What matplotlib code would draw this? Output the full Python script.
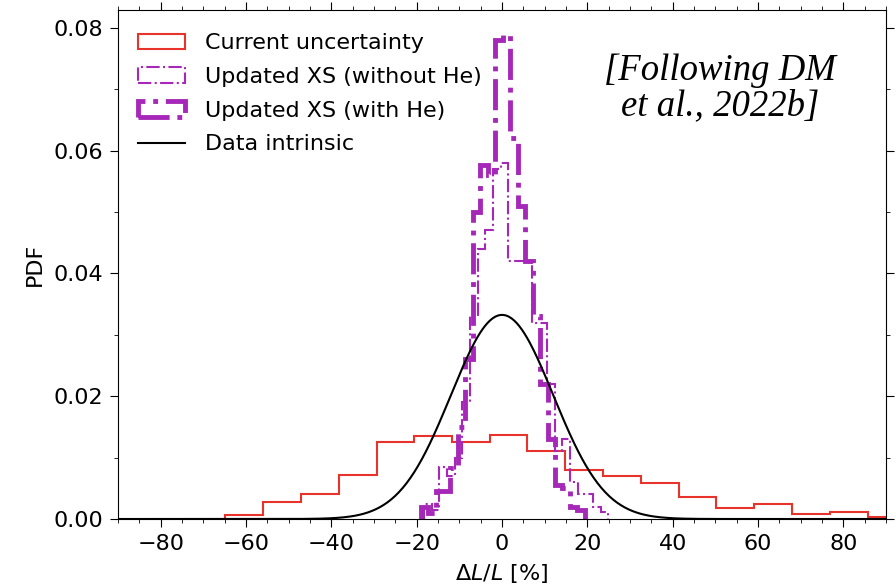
import numpy as np
import matplotlib.pyplot as plt

# Current uncertainty histogram (density), bin edges in %
cur_edges = np.array([-64.9, -56.0, -47.2, -38.3, -29.4, -20.6, -11.7, -2.9,
                      5.9, 14.8, 23.6, 32.5, 41.4, 50.2, 59.1, 67.9, 76.8, 85.7, 94.5])
cur_pdf = np.array([0.0006, 0.0028, 0.0040, 0.0072, 0.0126, 0.0136, 0.0125, 0.0137,
                    0.0111, 0.0080, 0.0070, 0.0059, 0.0036, 0.0018, 0.0024, 0.0008,
                    0.0011, 0.0004])

# Updated cross sections, without He
noHe_edges = np.array([-18.3, -16.5, -14.7, -12.9, -11.1, -9.3, -7.5, -5.7, -3.9,
                       -2.1, -0.3, 1.5, 3.3, 5.1, 6.9, 8.7, 10.5, 12.3, 14.1,
                       15.9, 17.7, 19.5, 21.3, 23.1, 24.9])
noHe_pdf = np.array([0.0025, 0.0015, 0.0085, 0.0070, 0.0100, 0.0190, 0.0330, 0.0440,
                     0.0470, 0.0570, 0.0580, 0.0420, 0.0420, 0.0420, 0.0320, 0.0320,
                     0.0220, 0.0110, 0.0130, 0.0060, 0.0040, 0.0040, 0.0020, 0.0012])

# Updated cross sections, with He
He_edges = np.array([-19.1, -17.35, -15.6, -13.85, -12.1, -10.35, -8.6, -6.85, -5.1,
                     -3.35, -1.6, 0.15, 1.9, 3.65, 5.4, 7.15, 8.9, 10.65, 12.4,
                     14.15, 15.9, 17.65, 19.4])
He_pdf = np.array([0.0020, 0.0010, 0.0045, 0.0045, 0.0083, 0.0150, 0.0260, 0.0500,
                   0.0577, 0.0560, 0.0780, 0.0788, 0.0620, 0.0510, 0.0420, 0.0330,
                   0.0220, 0.0130, 0.0055, 0.0050, 0.0020, 0.0015])

# intrinsic scatter of the data (gaussian)
mu, sigma = 0.0, 12.0

red = '#e8332c'
purple = '#a628b8'

fig = plt.figure(figsize=(8.96, 5.85), dpi=100)
ax = fig.add_axes([0.1317, 0.1128, 0.8573, 0.870])

ax.hist(cur_edges[:-1], bins=cur_edges, weights=cur_pdf, histtype='step',
        color=red, lw=1.5, label='Current uncertainty')
ax.hist(noHe_edges[:-1], bins=noHe_edges, weights=noHe_pdf, histtype='step',
        color=purple, lw=1.5, ls='-.', label='Updated XS (without He)')
ax.hist(He_edges[:-1], bins=He_edges, weights=He_pdf, histtype='step',
        color=purple, lw=3.5, ls='-.', label='Updated XS (with He)')

x = np.linspace(-90, 90, 600)
ax.plot(x, np.exp(-0.5 * ((x - mu) / sigma) ** 2) / (sigma * np.sqrt(2 * np.pi)),
        color='k', lw=1.5, label='Data intrinsic')

ax.set_xlim(-90, 90)
ax.set_ylim(0, 0.0829)
ax.set_xticks(np.arange(-80, 81, 20))
ax.set_xticks(np.arange(-90, 91, 5), minor=True)
ax.set_yticks([0.0, 0.02, 0.04, 0.06, 0.08])
ax.set_yticks(np.arange(0, 0.081, 0.01), minor=True)
ax.tick_params(which='both', top=True, right=True, labelsize=16, pad=5)
ax.tick_params(which='major', length=5.5)
ax.tick_params(which='minor', length=3)

ax.set_xlabel(r'$\Delta L/L$ [%]', fontsize=16, labelpad=6)
ax.set_ylabel('PDF', fontsize=16, labelpad=6)

ax.legend(loc='upper left', bbox_to_anchor=(0.0, 0.994), frameon=False,
          fontsize=16, handlelength=2.1, handletextpad=0.9, labelspacing=0.62)

ax.text(0.784, 0.846, '[Following DM\net al., 2022b]', transform=ax.transAxes,
        ha='center', va='center', fontsize=26.5, style='italic',
        family='Liberation Serif', linespacing=1.05)

fig.savefig('out.png', dpi=100)
